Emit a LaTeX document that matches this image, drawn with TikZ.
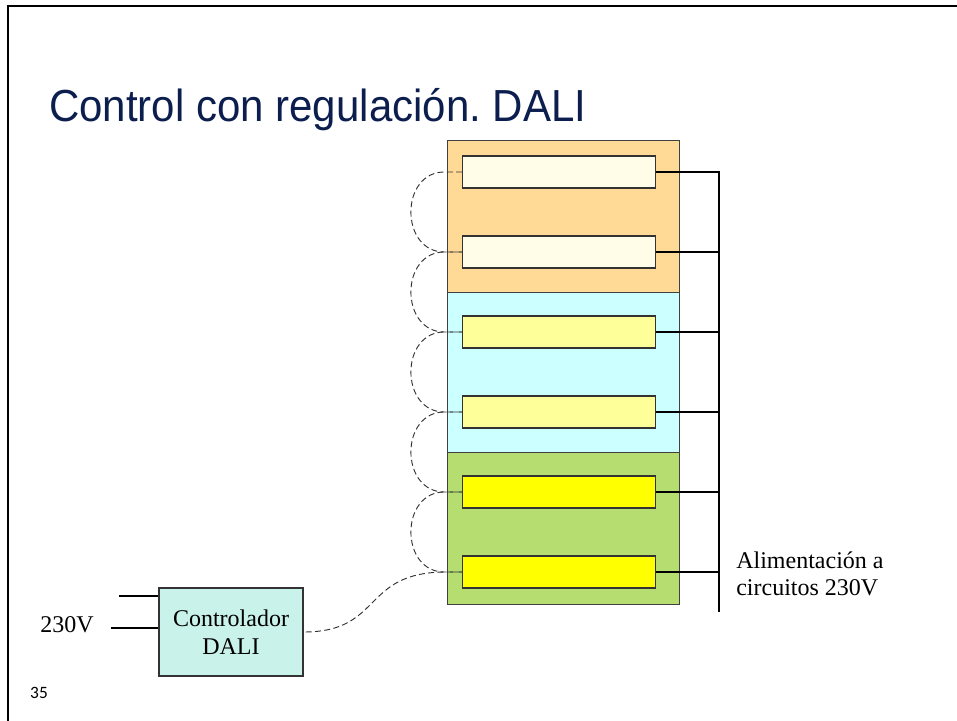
\documentclass[tikz,border=0pt]{standalone}
\usepackage{fontspec}
\setmainfont{Liberation Serif}
\newfontfamily\titlefont{Liberation Sans}
\newfontfamily\numfont{Carlito}
\definecolor{tituloazul}{RGB}{12,30,78}
\definecolor{zonanaranja}{RGB}{255,217,150}
\definecolor{zonacian}{RGB}{204,255,255}
\definecolor{zonaverde}{RGB}{181,221,112}
\definecolor{lamparaA}{RGB}{255,253,232}
\definecolor{lamparaB}{RGB}{255,255,153}
\definecolor{lamparaC}{RGB}{255,255,0}
\definecolor{ctrlfill}{RGB}{200,242,234}
\tikzset{
  lampara/.style={draw=black!80, line width=0.8pt, minimum width=144.5pt, minimum height=24pt, inner sep=0pt},
  bus/.style={line width=1.6pt},
  dali/.style={black!80, line width=0.7pt, dash pattern=on 4.5pt off 2.5pt},
}
\begin{document}
\begin{tikzpicture}[x=0.75pt, y=-0.75pt]
        \useasboundingbox (0,0) rectangle (957,721);
        % Marco
        \draw[line width=1.6pt] (8,721) -- (8,6) -- (957,6);
        \node[anchor=base west, inner sep=0pt, text=tituloazul, font=\titlefont\fontsize{31.5}{36}\selectfont, yscale=1.07, transform shape] (titulo) at (49,121) {Control con regulación.\ DALI};

        % Zonas
        \draw[draw=black!75, fill=zonanaranja] (447,140) rectangle (679,292);
        \draw[draw=black!75, fill=zonacian] (447,292) rectangle (679,452);
        \draw[draw=black!75, fill=zonaverde] (447,452) rectangle (679,604);

        % Lamparas
        \foreach \i/\y/\col in {
            1/172/lamparaA,
            2/252/lamparaA,
            3/332/lamparaB,
            4/412/lamparaB,
            5/492/lamparaC,
            6/572/lamparaC} {
            \node[lampara, fill=\col] (l\i) at (559,\y) {};
        }

        % Alimentacion 230V
        \coordinate (busfin) at (719,612);
        \draw[bus] (l1.east) -- (l1.east -| busfin) -- (busfin);
        \foreach \i in {2,...,6} {
            \draw[bus] (l\i.east) -- (l\i.east -| busfin);
        }
        \node[anchor=base west, inner sep=0pt, font=\fontsize{18}{20}\selectfont] (alim1) at (736,568) {Alimentación a};
        \node[anchor=base west, inner sep=0pt, font=\fontsize{18}{20}\selectfont] (alim2) at (736,595) {circuitos 230V};

        % Bus DALI
        \foreach \i/\j in {1/2, 2/3, 3/4, 4/5, 5/6} {
            \draw[dali] (l\i.west) -- ++(-16,0) .. controls +(-47,-2) and +(-47,2) .. ++(0,80) -- (l\j.west);
        }

        % Controlador
        \node[draw=black!80, line width=0.8pt, fill=ctrlfill, minimum width=108pt, minimum height=66pt, align=center, font=\fontsize{18}{21}\selectfont] (ctrl) at (231,632) {Controlador\\DALI};
        \draw[dali] (l6.west) -- ++(-16,0) .. controls +(-85,0) and +(80,0) .. (ctrl.east);
        \coordinate (ent1) at (119,596);
        \coordinate (ent2) at (111,628);
        \draw[bus] (ent1) -- (ent1 -| ctrl.west);
        \draw[bus] (ent2) -- (ent2 -| ctrl.west);
        \node[anchor=base, inner sep=0pt, font=\fontsize{18}{21}\selectfont] (tension) at (67,632) {230V};

        \node[inner sep=0pt, font=\numfont\fontsize{13}{15}\selectfont] (pagina) at (39,693) {35};
\end{tikzpicture}
\end{document}
